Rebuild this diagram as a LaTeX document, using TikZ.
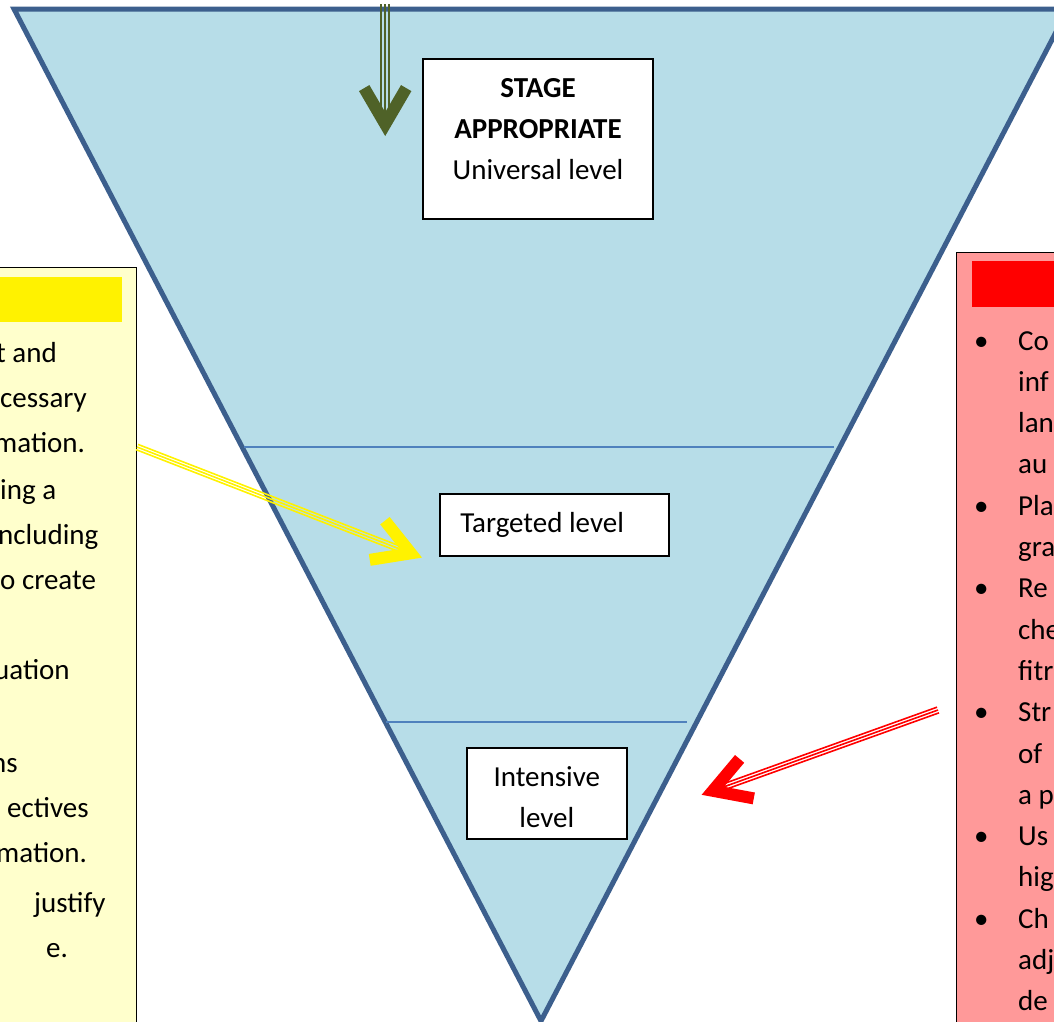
\documentclass[tikz,border=0pt]{standalone}
\usepackage{fontspec}
\setmainfont{Carlito}
\usepackage{tikz}
\usetikzlibrary{calc, positioning, arrows.meta}

\definecolor{tierfill}{HTML}{B7DDE8}
\definecolor{tieredge}{HTML}{3C5F8D}
\definecolor{tierline}{HTML}{4F81BD}
\definecolor{creamfill}{HTML}{FFFFCC}
\definecolor{pinkfill}{HTML}{FF9999}
\definecolor{olivegreen}{HTML}{4F6228}

\newcommand{\lvlfont}{\fontsize{29}{41}\selectfont}

\begin{document}
\begin{tikzpicture}[x=1pt, y=-1pt,
        level_box/.style={draw, line width=1.6pt, fill=white, inner sep=0pt, text height=39pt, font=\lvlfont},
        side_box/.style={draw, line width=1pt, inner sep=0pt},
        side_bar/.style={inner sep=0pt, anchor=north west},
        tier_line/.style={draw=tierline, line width=1.8pt},
        shaft/.style={draw=#1, line width=1.6pt, shorten >=12pt},
        barb/.style={draw=#1, line width=1pt, -{Straight Barb[length=36pt, width=42pt, line width=12pt]}}
    ]
    \useasboundingbox (0,0) rectangle (1054,1021);
    \clip (0,0) rectangle (1054,1021);

    % ==================== Funnel ====================
    \coordinate (top_left) at (14,9);
    \coordinate (top_right) at (1068,9);
    \coordinate (apex) at (541,1021);
    \draw[draw=tieredge, fill=tierfill, line width=5pt, line join=miter] (top_left) -- (top_right) -- (apex) -- cycle;

    \draw[tier_line] (244,447) -- (834,447);
    \draw[tier_line] (386,722) -- (687,722);

    % Levels
    \node[level_box, anchor=north, minimum width=230pt, text depth=121pt] (stage_box) at (538,58)
        {\begin{tabular}[t]{@{}c@{}}\textbf{STAGE}\\\textbf{APPROPRIATE}\\Universal level\end{tabular}};
    \node[level_box, anchor=north west, minimum width=229pt, text depth=23pt] (targeted_box) at (439,493)
        {\makebox[188pt][l]{Targeted level}};
    \node[level_box, anchor=north west, minimum width=160pt, text depth=52pt] (intensive_box) at (466,747)
        {\begin{tabular}[t]{@{}c@{}}Intensive\\level\end{tabular}};

    % ==================== Yellow side (Left) ====================
    \node[side_box, fill=creamfill, anchor=north east, minimum width=160pt, minimum height=780pt] (yellow_box) at (137,267) {};
    \node[side_bar, fill=yellow, anchor=north east, minimum width=140pt, minimum height=45pt] (yellow_bar) at (122,277) {};
    \node[anchor=base west, inner sep=0pt, font=\fontsize{29}{45}\selectfont] (yellow_text) at (0,362)
        {\begin{tabular}[t]{@{}l@{}}
            \hspace*{-4pt}t and\\
            cessary\\
            \hspace*{-6pt}mation.\\[2pt]
            ing a\\
            \hspace*{-2pt}ncluding\\
            o create\\
            \\
            \hspace*{-6pt}uation\\
            \\[3pt]
            \hspace*{-9pt}ns\\
            \hspace*{7pt}ectives\\
            \hspace*{-4pt}mation.\\[5pt]
            \hspace*{34pt}justify\\
            \hspace*{46pt}e.
        \end{tabular}};

    % ==================== Red side (Right) ====================
    \node[side_box, fill=pinkfill, anchor=north west, minimum width=130pt, minimum height=800pt] (red_box) at (956,252) {};
    \node[side_bar, fill=red, minimum width=110pt, minimum height=46pt] (red_bar) at (972,261) {};
    \node[anchor=base west, inner sep=0pt, font=\fontsize{29}{41.3}\selectfont] (red_text) at (974,350)
        {\begin{tabular}[t]{@{}p{44pt}@{}l@{}}
            \textbullet & Co\\
            & inf\\
            & lan\\
            & au\\
            \textbullet & Pla\\
            & gra\\
            \textbullet & Re\\
            & che\\
            & fitr\\
            \textbullet & Str\\
            & of\\
            & a p\\
            \textbullet & Us\\
            & hig\\
            \textbullet & Ch\\
            & adj\\
            & de
        \end{tabular}};

    % ==================== Arrows ====================
    \coordinate (g_tip) at ($(stage_box.north west)+(-37,78)$);
    \coordinate (g_start) at ($(g_tip)+(0,-132)$);
    \coordinate (y_start) at ($(yellow_box.north east)+(0,180)$);
    \coordinate (y_tip) at ($(targeted_box.south west)+(-17,1)$);
    \coordinate (r_start) at ($(red_box.north west)+(-18,458)$);
    \coordinate (r_tip) at ($(intensive_box.east)+(74,1.5)$);

    \foreach \offs in {-4pt,0pt,4pt}
        \draw[shaft=olivegreen] ($(g_start)!\offs!90:(g_tip)$) -- ($(g_tip)!\offs!-90:(g_start)$);
    \draw[barb=olivegreen] ($(g_tip)!30pt!(g_start)$) -- (g_tip);

    \foreach \offs in {-2.8pt,0pt,2.8pt}
        \draw[shaft=yellow] ($(y_start)!\offs!90:(y_tip)$) -- ($(y_tip)!\offs!-90:(y_start)$);
    \draw[barb=yellow] ($(y_tip)!30pt!(y_start)$) -- (y_tip);

    \foreach \offs in {-3pt,0pt,3pt}
        \draw[shaft=red] ($(r_start)!\offs!90:(r_tip)$) -- ($(r_tip)!\offs!-90:(r_start)$);
    \draw[barb=red] ($(r_tip)!30pt!(r_start)$) -- (r_tip);

\end{tikzpicture}
\end{document}
